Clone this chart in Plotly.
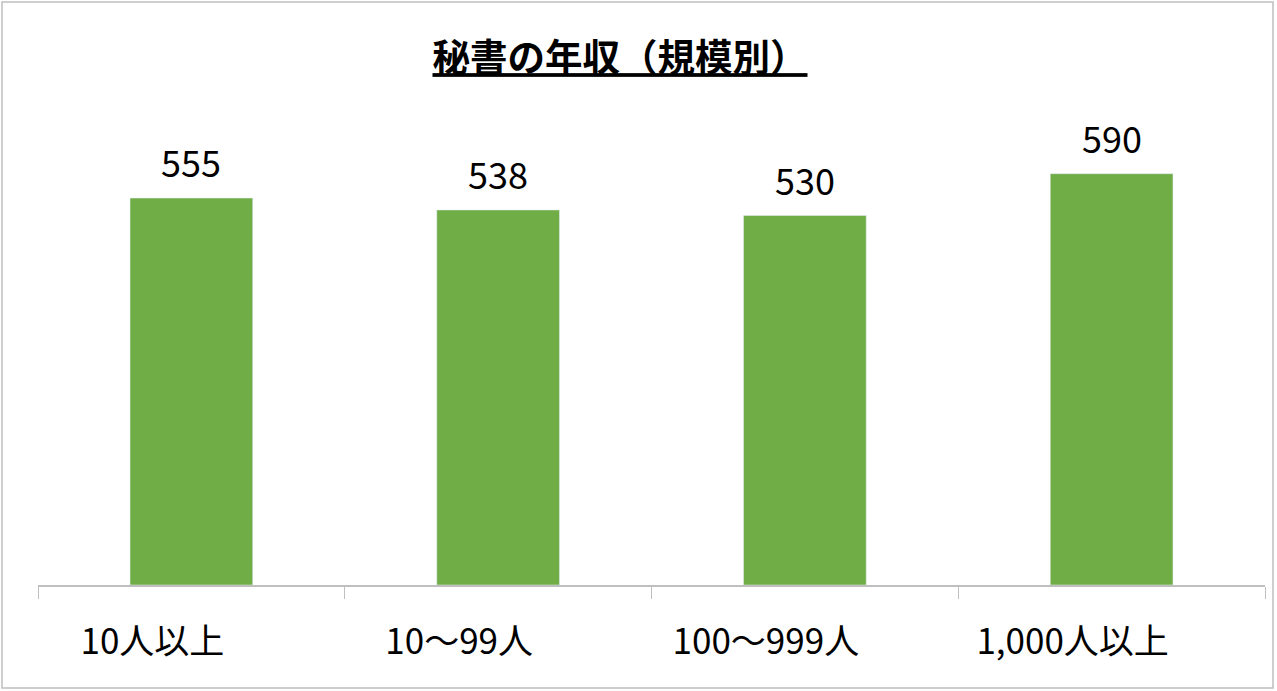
import plotly.graph_objects as go

# 規模別の秘書の年収(万円)
categories = ["10人以上", "10～99人", "100～999人", "1,000人以上"]
salaries = [555, 538, 530, 590]

font_jp = "Noto Sans CJK JP"

fig = go.Figure(go.Bar(
    x=categories,
    y=salaries,
    marker_color="#70AD47",
    width=0.4,
))

# data labels above the bars
for cat, val in zip(categories, salaries):
    fig.add_annotation(
        x=cat, y=val, text=str(val), showarrow=False,
        yanchor="bottom", yshift=9,
        font=dict(size=36, color="black", family=font_jp),
    )

# plot area: x 38..1265, y 97..585 (px)
fig.update_layout(
    width=1277, height=691,
    margin=dict(l=38, r=12, t=97, b=106),
    plot_bgcolor="white", paper_bgcolor="white",
    font=dict(family=font_jp, color="black"),
    title=dict(
        text="<b><u>秘書の年収（規模別）</u></b>",
        x=620 / 1277, xanchor="center",
        y=1 - 58 / 691, yanchor="middle",
        font=dict(size=37.5, family=font_jp, color="black"),
    ),
    showlegend=False,
    bargap=0.6,
)
fig.update_xaxes(
    tickson="boundaries", ticks="outside", ticklen=12, tickcolor="#BFBFBF",
    showline=True, linecolor="#BFBFBF", linewidth=1.5,
    tickfont=dict(size=35, family=font_jp, color="black"),
    ticklabelstandoff=25, ticklabelshift=-39,
)
fig.update_yaxes(range=[0, 700], visible=False, showgrid=False)

# outer border of the chart
fig.add_shape(
    type="rect", xref="paper", yref="paper",
    x0=(2 - 38) / 1227, x1=(1273 - 38) / 1227,
    y0=(585 - 688) / 488, y1=(585 - 2) / 488,
    line=dict(color="#BFBFBF", width=1.5), layer="below",
)

fig.write_html("out.html", config={"displayModeBar": False},
               post_script="document.body.style.margin='0';")
